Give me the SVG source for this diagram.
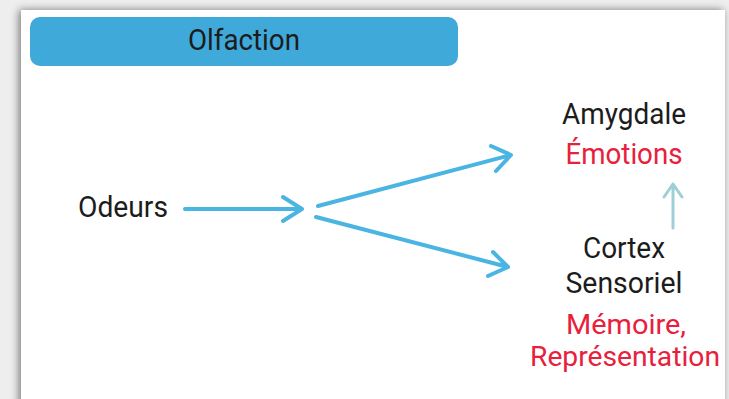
<svg xmlns="http://www.w3.org/2000/svg" width="729" height="399" viewBox="0 0 729 399">
<defs>
<style>
.t{font-family:Roboto,"Liberation Sans",sans-serif;font-size:29px;text-anchor:middle;fill:#1c1c1c}
.r{fill:#e8203c}
.s{font-size:27px}
.c{stroke:#4ab4e2;stroke-width:4;fill:none;stroke-linecap:round;stroke-linejoin:round}
.v{stroke:#9fcfd6;stroke-width:3;fill:none;stroke-linecap:round;stroke-linejoin:round}
</style>
<filter id="sh" x="-5%" y="-5%" width="110%" height="110%">
<feGaussianBlur in="SourceAlpha" stdDeviation="4"/>
<feOffset dx="-2" dy="0"/>
<feComponentTransfer><feFuncA type="linear" slope="0.5"/></feComponentTransfer>
<feMerge><feMergeNode/><feMergeNode in="SourceGraphic"/></feMerge>
</filter>
</defs>
<rect x="0" y="0" width="729" height="399" fill="#eeeeee"/>
<rect x="21" y="10" width="704" height="400" fill="#ffffff" filter="url(#sh)"/>
<g id="header">
<rect x="30" y="17" width="428" height="49" rx="10" fill="#3fa9da"/>
<text class="t" x="244" y="50" font-size="30" textLength="112" lengthAdjust="spacingAndGlyphs">Olfaction</text>
</g>
<g id="odeurs">
<text class="t" x="123" y="217" textLength="90" lengthAdjust="spacingAndGlyphs">Odeurs</text>
</g>
<g id="amygdale">
<text class="t" x="624" y="124" textLength="124" lengthAdjust="spacingAndGlyphs">Amygdale</text>
<text class="t r" x="624" y="164" textLength="117" lengthAdjust="spacingAndGlyphs">Émotions</text>
</g>
<g id="cortex">
<text class="t" x="624" y="258" textLength="82" lengthAdjust="spacingAndGlyphs">Cortex</text>
<text class="t" x="624" y="293" textLength="117" lengthAdjust="spacingAndGlyphs">Sensoriel</text>
<text class="t r s" x="626" y="334" textLength="120" lengthAdjust="spacingAndGlyphs">Mémoire,</text>
<text class="t r s" x="625" y="366" textLength="190" lengthAdjust="spacingAndGlyphs">Représentation</text>
</g>
<g id="connectors">
<path class="c" d="M185 209 L302 209 M283 197 L302 209 L283 221"/>
<path class="c" d="M318 206 L511 155 M491 146 L511 155 L496 171"/>
<path class="c" d="M316 217 L508 267 M493 252 L508 267 L488 276"/>
<path class="v" d="M673 228 L673 184 M664 197 L673 184 L682 197"/>
</g>
</svg>
